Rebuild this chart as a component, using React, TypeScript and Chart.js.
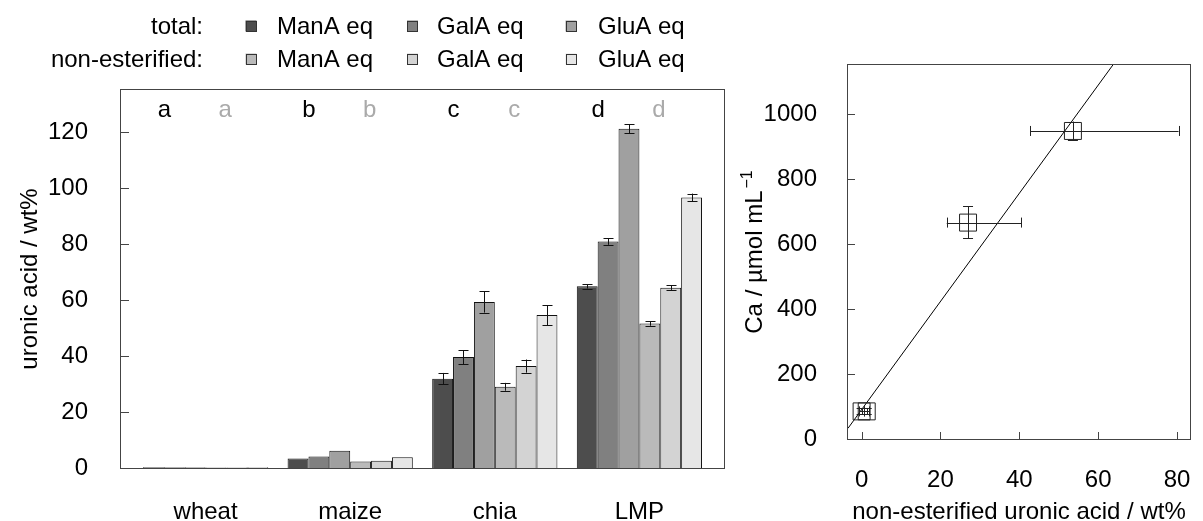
import React, { useEffect, useRef } from 'react';
import { Chart, registerables } from 'chart.js';

Chart.register(...registerables);

// ---------- data: left panel ----------
const categories = ['wheat', 'maize', 'chia', 'LMP'];
const seriesNames = ['ManA eq', 'GalA eq', 'GluA eq'];
const groupLabels = ['total:', 'non-esterified:'];

const totalManA = [0.3, 3.4, 31.9, 64.9];
const totalManAErr = [0.1, 0.2, 2.05, 0.8];
const totalGalA = [0.3, 4.1, 39.6, 80.9];
const totalGalAErr = [0.1, 0.2, 2.5, 1.2];
const totalGluA = [0.3, 6.2, 59.3, 121.2];
const totalGluAErr = [0.1, 0.3, 3.8, 1.6];
const nonEstManA = [0.2, 2.3, 29.0, 51.6];
const nonEstManAErr = [0.1, 0.1, 1.4, 0.8];
const nonEstGalA = [0.2, 2.6, 36.4, 64.4];
const nonEstGalAErr = [0.1, 0.1, 2.35, 0.8];
const nonEstGluA = [0.3, 3.8, 54.6, 96.6];
const nonEstGluAErr = [0.1, 0.2, 3.55, 1.4];

const lettersTotal = ['a', 'b', 'c', 'd'];
const lettersNonEst = ['a', 'b', 'c', 'd'];

const leftYTicks = [0, 20, 40, 60, 80, 100, 120];
const leftYTitle = 'uronic acid / wt%';

const barColors = ['#4d4d4d', '#808080', '#a0a0a0', '#bababa', '#d3d3d3', '#e6e6e6'];

// ---------- data: right panel ----------
const pointX = [0.0, 1.3, 27.0, 53.6];
const pointXLow = [-0.6, 0.7, 21.6, 42.8];
const pointXHigh = [0.6, 1.9, 40.5, 80.4];
const pointY = [85, 85, 666, 948];
const pointYLow = [76, 76, 618, 921];
const pointYHigh = [94, 94, 717, 977];

const fitX = [-3.45, 63.8];
const fitY = [33, 1152];

const rightXTicks = [0, 20, 40, 60, 80];
const rightYTicks = [0, 200, 400, 600, 800, 1000];
const rightXTitle = 'non-esterified uronic acid / wt%';
const rightYTitleMain = 'Ca / µmol mL';
const rightYTitleSup = '−1';

const FONT = '"Liberation Sans", Arial, Helvetica, sans-serif';
const font24 = `24px ${FONT}`;

const series = [
  { values: totalManA, errors: totalManAErr },
  { values: totalGalA, errors: totalGalAErr },
  { values: totalGluA, errors: totalGluAErr },
  { values: nonEstManA, errors: nonEstManAErr },
  { values: nonEstGalA, errors: nonEstGalAErr },
  { values: nonEstGluA, errors: nonEstGluAErr },
];

function hLine(ctx: CanvasRenderingContext2D, x1: number, x2: number, y: number) {
  ctx.beginPath();
  ctx.moveTo(x1, y);
  ctx.lineTo(x2, y);
  ctx.stroke();
}
function vLine(ctx: CanvasRenderingContext2D, x: number, y1: number, y2: number) {
  ctx.beginPath();
  ctx.moveTo(x, y1);
  ctx.lineTo(x, y2);
  ctx.stroke();
}

const leftDecor = {
  id: 'leftDecor',
  afterDatasetsDraw(chart: any) {
    const { ctx, chartArea: a, scales } = chart;
    const ys = scales.y;
    const xs = scales.x;
    ctx.save();
    // error bars
    ctx.strokeStyle = '#111';
    ctx.lineWidth = 1;
    series.forEach((s, d) => {
      const meta = chart.getDatasetMeta(d);
      meta.data.forEach((el: any, i: number) => {
        const v = s.values[i];
        const e = s.errors[i];
        const cx = Math.round(el.x) + 0.5;
        const y1 = ys.getPixelForValue(v + e);
        const y2 = ys.getPixelForValue(v - e);
        if (Math.abs(y2 - y1) < 2) return;
        vLine(ctx, cx, y1, y2);
        hLine(ctx, cx - 5, cx + 5, Math.round(y1) + 0.5);
        hLine(ctx, cx - 5, cx + 5, Math.round(y2) + 0.5);
      });
    });
    // frame
    ctx.strokeStyle = '#444';
    ctx.lineWidth = 1;
    ctx.strokeRect(a.left - 0.5, a.top - 0.5, a.right - a.left + 1, a.bottom - a.top + 1);
    // inward ticks
    leftYTicks.forEach((t) => {
      const py = Math.round(ys.getPixelForValue(t)) + 0.5;
      hLine(ctx, a.left, a.left + 8, py);
    });
    ctx.font = font24;
    ctx.textBaseline = 'alphabetic';
    // category labels
    ctx.textAlign = 'center';
    ctx.fillStyle = '#000';
    categories.forEach((c, i) => {
      ctx.fillText(c, xs.getPixelForValue(i + 1), 519);
    });
    // letters
    categories.forEach((_, i) => {
      ctx.fillStyle = '#000';
      ctx.fillText(lettersTotal[i], xs.getPixelForValue(i + 1 - 0.285), 117);
      ctx.fillStyle = '#aaaaaa';
      ctx.fillText(lettersNonEst[i], xs.getPixelForValue(i + 1 + 0.135), 117);
    });
    // legend
    const rowsBase = [34, 67];
    const sqX = [251, 412.5, 571];
    const txX = [277, 437, 598];
    groupLabels.forEach((g, r) => {
      ctx.textAlign = 'right';
      ctx.fillStyle = '#000';
      ctx.fillText(g, 203, rowsBase[r]);
      seriesNames.forEach((n, k) => {
        const c = barColors[r * 3 + k];
        const cy = rowsBase[r] - 8;
        ctx.fillStyle = c;
        ctx.fillRect(sqX[k] - 5.5, cy - 5.5, 11, 11);
        ctx.strokeStyle = '#333';
        ctx.strokeRect(Math.round(sqX[k] - 5.5) + 0.5, Math.round(cy - 5.5) + 0.5, 10, 10);
        ctx.fillStyle = '#000';
        ctx.textAlign = 'left';
        ctx.fillText(n, txX[k], rowsBase[r]);
      });
    });
    // y title
    ctx.save();
    ctx.translate(30, (a.top + a.bottom) / 2);
    ctx.rotate(-Math.PI / 2);
    ctx.textAlign = 'center';
    ctx.textBaseline = 'middle';
    ctx.fillStyle = '#000';
    ctx.fillText(leftYTitle, 0, 0);
    ctx.restore();
    ctx.restore();
  },
};

const rightDecor = {
  id: 'rightDecor',
  afterDatasetsDraw(chart: any) {
    const { ctx, chartArea: a, scales } = chart;
    const xs = scales.x;
    const ys = scales.y;
    ctx.save();
    ctx.strokeStyle = '#222';
    ctx.lineWidth = 1;
    pointX.forEach((_, i) => {
      const cx = xs.getPixelForValue(pointX[i]);
      const cy = ys.getPixelForValue(pointY[i]);
      const xl = xs.getPixelForValue(pointXLow[i]);
      const xh = xs.getPixelForValue(pointXHigh[i]);
      const yl = ys.getPixelForValue(pointYLow[i]);
      const yh = ys.getPixelForValue(pointYHigh[i]);
      hLine(ctx, xl, xh, Math.round(cy) + 0.5);
      vLine(ctx, Math.round(xl) + 0.5, cy - 5, cy + 5);
      vLine(ctx, Math.round(xh) + 0.5, cy - 5, cy + 5);
      vLine(ctx, Math.round(cx) + 0.5, yl, yh);
      hLine(ctx, cx - 5, cx + 5, Math.round(yl) + 0.5);
      hLine(ctx, cx - 5, cx + 5, Math.round(yh) + 0.5);
    });
    // frame
    ctx.strokeStyle = '#444';
    ctx.strokeRect(a.left - 0.5, a.top - 0.5, a.right - a.left + 1, a.bottom - a.top + 1);
    // inward ticks
    rightYTicks.forEach((t) => {
      const py = Math.round(ys.getPixelForValue(t)) + 0.5;
      hLine(ctx, a.left, a.left + 7, py);
    });
    rightXTicks.forEach((t) => {
      const px = Math.round(xs.getPixelForValue(t)) + 0.5;
      vLine(ctx, px, a.bottom, a.bottom - 7);
    });
    // x tick labels
    ctx.fillStyle = '#000';
    ctx.font = font24;
    ctx.textAlign = 'center';
    ctx.textBaseline = 'alphabetic';
    rightXTicks.forEach((t) => {
      ctx.fillText(String(t), xs.getPixelForValue(t), 487);
    });
    // titles
    ctx.fillText(rightXTitle, (a.left + a.right) / 2, 519);
    ctx.save();
    ctx.translate(22, 252);
    ctx.rotate(-Math.PI / 2);
    ctx.textBaseline = 'alphabetic';
    ctx.font = font24;
    const wMain = ctx.measureText(rightYTitleMain).width;
    ctx.font = `16px ${FONT}`;
    const wSup = ctx.measureText(rightYTitleSup).width;
    const start = -(wMain + wSup + 2) / 2;
    ctx.textAlign = 'left';
    ctx.font = font24;
    ctx.fillText(rightYTitleMain, start, 0);
    ctx.font = `16px ${FONT}`;
    ctx.fillText(rightYTitleSup, start + wMain + 2, -10);
    ctx.restore();
    ctx.restore();
  },
};

const tickFont = { size: 24, family: FONT };

export default function App() {
  const leftRef = useRef<HTMLCanvasElement>(null);
  const rightRef = useRef<HTMLCanvasElement>(null);

  useEffect(() => {
    if (!leftRef.current || !rightRef.current) return;
    const left = new Chart(leftRef.current, {
      type: 'bar',
      data: {
        datasets: series.map((s, d) => ({
          label: String(d),
          data: s.values.map((v, i) => ({ x: i + 1, y: v })),
          backgroundColor: barColors[d],
          borderColor: '#111',
          borderWidth: 1,
          categoryPercentage: 0.866,
          barPercentage: 1,
        })),
      } as any,
      options: {
        animation: false,
        responsive: false,
        maintainAspectRatio: false,
        layout: { padding: { left: 0, right: 16, top: 90, bottom: 0 } },
        plugins: { legend: { display: false }, tooltip: { enabled: false } },
        scales: {
          x: {
            type: 'linear',
            offset: false,
            min: 0.415,
            max: 4.585,
            afterBuildTicks: (s: any) => {
              s.ticks = categories.map((_, i) => ({ value: i + 1 }));
            },
            afterFit: (s: any) => {
              s.height = 53;
            },
            grid: { display: false, offset: false },
            border: { display: false },
            ticks: { display: false },
          },
          y: {
            min: 0,
            max: 135,
            afterBuildTicks: (s: any) => {
              s.ticks = leftYTicks.map((v) => ({ value: v }));
            },
            afterFit: (s: any) => {
              s.width = 121;
            },
            grid: { display: false },
            border: { display: false },
            ticks: { font: tickFont, color: '#000', padding: 25, callback: (v: any) => String(v) },
          },
        },
      } as any,
      plugins: [leftDecor],
    });

    const right = new Chart(rightRef.current, {
      type: 'scatter',
      data: {
        datasets: [
          {
            data: pointX.map((x, i) => ({ x, y: pointY[i] })),
            pointStyle: 'rect',
            pointRadius: 12,
            backgroundColor: 'rgba(0,0,0,0)',
            borderColor: '#222',
            borderWidth: 1,
          },
          {
            type: 'line',
            data: fitX.map((x, i) => ({ x, y: fitY[i] })),
            borderColor: '#000',
            borderWidth: 1,
            pointRadius: 0,
            showLine: true,
            fill: false,
          },
        ],
      } as any,
      options: {
        animation: false,
        responsive: false,
        maintainAspectRatio: false,
        layout: { padding: { left: 0, right: 3, top: 65, bottom: 0 } },
        plugins: { legend: { display: false }, tooltip: { enabled: false } },
        scales: {
          x: {
            type: 'linear',
            min: -3.45,
            max: 83.3,
            afterBuildTicks: (s: any) => {
              s.ticks = rightXTicks.map((v) => ({ value: v }));
            },
            afterFit: (s: any) => {
              s.height = 82;
            },
            grid: { display: false },
            border: { display: false },
            ticks: { display: false },
          },
          y: {
            type: 'linear',
            min: 0,
            max: 1151,
            afterBuildTicks: (s: any) => {
              s.ticks = rightYTicks.map((v) => ({ value: v }));
            },
            afterFit: (s: any) => {
              s.width = 108;
            },
            grid: { display: false },
            border: { display: false },
            ticks: { font: tickFont, color: '#000', padding: 23, callback: (v: any) => String(v) },
          },
        },
      } as any,
      plugins: [rightDecor],
    });

    return () => {
      left.destroy();
      right.destroy();
    };
  }, []);

  return (
    <div style={{ position: 'absolute', left: 0, top: 0, width: 1203, height: 521, background: '#fff' }}>
      <canvas
        ref={leftRef}
        width={740}
        height={521}
        style={{ position: 'absolute', left: 0, top: 0, width: 740, height: 521 }}
      />
      <canvas
        ref={rightRef}
        width={463}
        height={521}
        style={{ position: 'absolute', left: 740, top: 0, width: 463, height: 521 }}
      />
    </div>
  );
}
